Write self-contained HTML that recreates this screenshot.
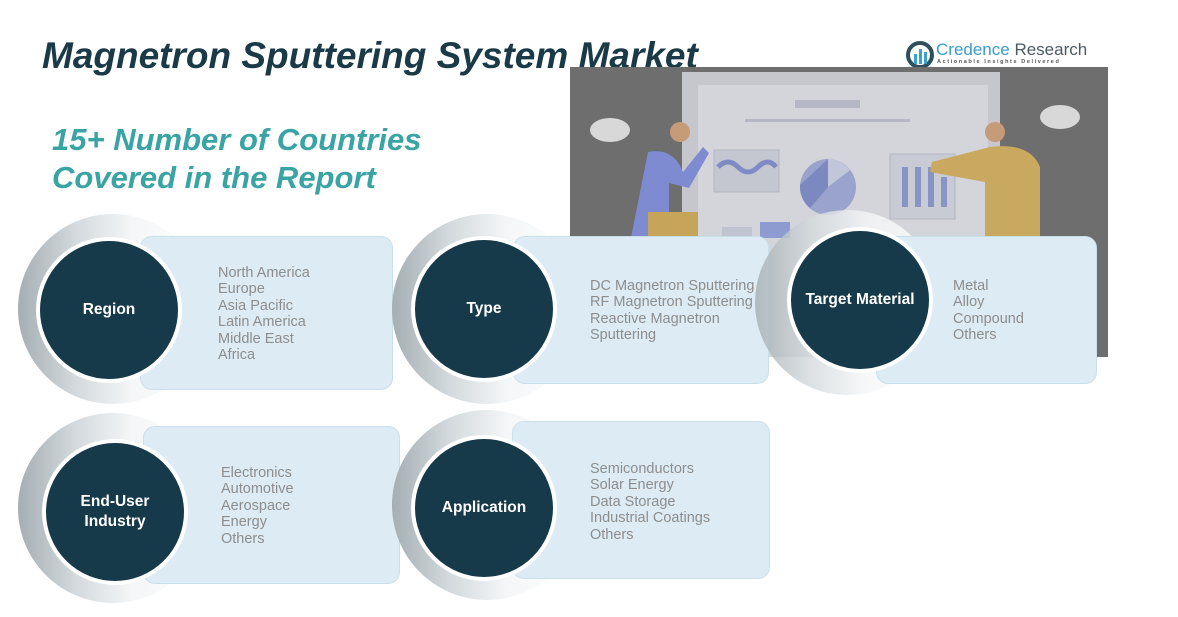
<!DOCTYPE html>
<html><head><meta charset="utf-8"><style>
*{margin:0;padding:0;box-sizing:border-box}
body{width:1178px;height:617px;background:#fff;position:relative;overflow:hidden;font-family:"Liberation Sans",sans-serif}
.a{position:absolute}
.title{left:42px;top:35px;font-size:37px;font-weight:bold;font-style:italic;color:#1b3a48;white-space:nowrap}
.sub{left:52px;top:121px;font-size:31px;font-weight:bold;font-style:italic;color:#3aa3a3;line-height:38px}
.ring{border-radius:50%;background:linear-gradient(90deg,#a4aeb3 0%,#d3d9dc 30%,#f4f6f7 60%,#fff 100%)}
.box{background:#ddecf4;border:1.5px solid #c9e0ea;border-radius:12px}
.c{border-radius:50%;background:#173a4a;border:4px solid #fff;color:#fff;font-weight:bold;font-size:15.5px;display:flex;align-items:center;justify-content:center;text-align:center;line-height:20px}
.t{font-size:14.5px;color:#8d8d8d;line-height:16.4px;white-space:nowrap}
</style></head><body>
<div class="a title">Magnetron Sputtering System Market</div>
<div class="a sub">15+ Number of Countries<br>Covered in the Report</div>

<svg class="a" style="left:905px;top:40px" width="30" height="30" viewBox="0 0 30 30"><circle cx="15" cy="15" r="12" fill="none" stroke="#2f4f5c" stroke-width="4"/><rect x="9" y="14" width="3" height="10" fill="#3aa3c8"/><rect x="14" y="9" width="3" height="15" fill="#3aa3c8"/><rect x="19" y="12" width="3" height="12" fill="#3aa3c8"/></svg>
<div class="a" style="left:936px;top:40px;font-size:17px;color:#3a9cc8;white-space:nowrap">Credence <span style="color:#4a5b64">Research</span></div>
<div class="a" style="left:937px;top:59px;font-size:5.5px;color:#555;letter-spacing:1.6px;white-space:nowrap;font-weight:bold">Actionable Insights Delivered</div>

<svg class="a" style="left:570px;top:67px" width="538" height="290" viewBox="0 0 538 290">
<rect width="538" height="290" fill="#6e6e6e"/>
<rect x="112" y="5" width="318" height="285" fill="#c6c7cc"/>
<rect x="128" y="18" width="290" height="272" fill="#d4d5da"/>
<rect x="225" y="33" width="65" height="8" fill="#b5b8c4"/>
<rect x="175" y="52" width="165" height="3" fill="#b5b8c4"/>
<rect x="144" y="83" width="65" height="42" fill="#c4c6d0" stroke="#b3b6c3"/>
<path d="M148 100 q10 -10 20 0 t20 0 t18 0" stroke="#7e8bc4" stroke-width="5" fill="none"/>
<circle cx="258" cy="120" r="28" fill="#9aa3cc"/><path d="M258 120 L258 92 A28 28 0 0 1 280 103 Z" fill="#c2c6da"/><path d="M258 120 L240 141 A28 28 0 0 1 230 118 L258 92 Z" fill="#7c88c0"/>
<rect x="320" y="87" width="65" height="65" fill="#c8cad4" stroke="#b3b6c3"/>
<rect x="332" y="100" width="6" height="40" fill="#8894c6"/><rect x="345" y="100" width="6" height="40" fill="#8894c6"/><rect x="358" y="100" width="6" height="40" fill="#8894c6"/><rect x="371" y="110" width="6" height="30" fill="#8894c6"/>
<rect x="152" y="160" width="30" height="90" fill="#c0c3d0"/><rect x="190" y="155" width="30" height="16" fill="#8e9bd0"/>
<rect x="318" y="170" width="90" height="4" fill="#9aa3cc"/><rect x="318" y="180" width="70" height="4" fill="#9aa3cc"/>
<ellipse cx="40" cy="63" rx="20" ry="12" fill="#d8d8d8"/><ellipse cx="490" cy="50" rx="20" ry="12" fill="#d8d8d8"/>
<path d="M78 85 q25 -5 35 20 l20 -25 l6 6 l-20 35 l-20 -5 l0 60 l-40 5 z" fill="#7e8bd0"/>
<circle cx="110" cy="65" r="10" fill="#c69b78"/>
<rect x="78" y="145" width="50" height="25" fill="#c6a45a"/>
<path d="M420 80 q40 -5 50 20 l0 70 l-55 0 l0 -55 l-55 -10 l2 -10 z" fill="#c9a860"/>
<circle cx="425" cy="65" r="10" fill="#c69b78"/>
<rect x="418" y="170" width="50" height="25" fill="#7e8bd0"/>
</svg>

<div class="a ring" style="left:18px;top:214px;width:190px;height:190px"></div>
<div class="a box" style="left:140px;top:236px;width:253px;height:154px"></div>
<div class="a c" style="left:36px;top:237px;width:146px;height:146px">Region</div>
<div class="a t" style="left:218px;top:265px">North America<br>Europe<br>Asia Pacific<br>Latin America<br>Middle East<br>Africa</div>

<div class="a ring" style="left:392px;top:214px;width:190px;height:190px"></div>
<div class="a box" style="left:513px;top:236px;width:256px;height:148px"></div>
<div class="a c" style="left:411px;top:236px;width:146px;height:146px">Type</div>
<div class="a t" style="left:590px;top:278px">DC Magnetron Sputtering<br>RF Magnetron Sputtering<br>Reactive Magnetron<br>Sputtering</div>

<div class="a ring" style="left:755px;top:210px;width:185px;height:185px;opacity:.8"></div>
<div class="a box" style="left:876px;top:236px;width:221px;height:148px"></div>
<div class="a c" style="left:787px;top:227px;width:146px;height:146px">Target Material</div>
<div class="a t" style="left:953px;top:278px">Metal<br>Alloy<br>Compound<br>Others</div>

<div class="a ring" style="left:18px;top:413px;width:190px;height:190px"></div>
<div class="a box" style="left:143px;top:426px;width:257px;height:158px"></div>
<div class="a c" style="left:42px;top:439px;width:146px;height:146px">End-User<br>Industry</div>
<div class="a t" style="left:221px;top:465px">Electronics<br>Automotive<br>Aerospace<br>Energy<br>Others</div>

<div class="a ring" style="left:392px;top:410px;width:190px;height:190px"></div>
<div class="a box" style="left:512px;top:421px;width:258px;height:158px"></div>
<div class="a c" style="left:411px;top:435px;width:146px;height:146px">Application</div>
<div class="a t" style="left:590px;top:461px">Semiconductors<br>Solar Energy<br>Data Storage<br>Industrial Coatings<br>Others</div>
</body></html>
